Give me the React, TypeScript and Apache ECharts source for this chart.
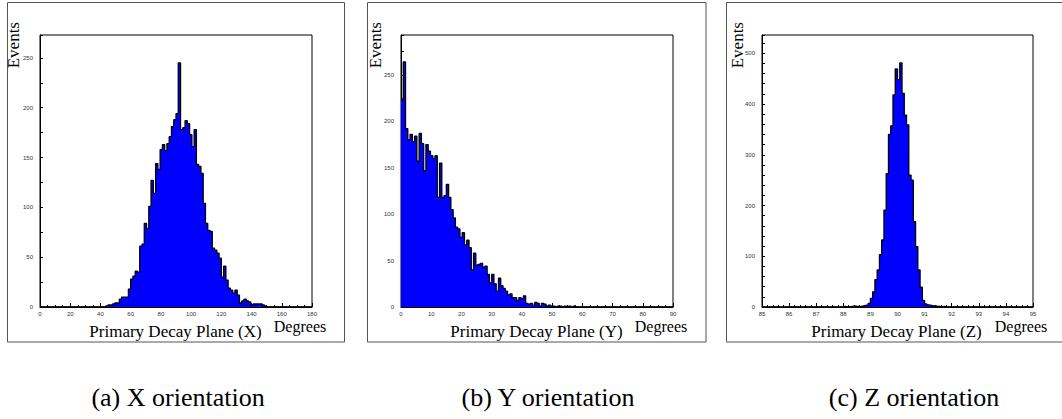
import { useEffect, useRef } from "react";
import * as echarts from "echarts";

// ---- Data (120 bins per histogram) ----
const X_START = 0;
const X_BIN = 1.5;
const xCounts = [
  0, 0, 0, 0, 0, 0, 0, 0, 0, 0,
  0, 0, 0, 0, 0, 0, 0, 0, 0, 0,
  0, 0, 0, 0, 0, 0, 0, 0, 0, 1,
  2, 2, 3, 4, 4, 8, 10, 10, 10, 18,
  28, 31, 36, 35, 61, 63, 84, 79, 101, 127,
  114, 144, 138, 158, 163, 157, 164, 171, 181, 188,
  194, 245, 178, 180, 187, 184, 173, 161, 178, 143,
  141, 134, 104, 84, 77, 76, 59, 57, 54, 49,
  30, 41, 27, 19, 17, 14, 17, 12, 4, 6,
  8, 6, 5, 2, 3, 3, 3, 3, 2, 1,
  0, 0, 0, 0, 0, 0, 0, 0, 0, 0,
  0, 0, 0, 0, 0, 0, 0, 0, 0, 0,
];

const Y_START = 0;
const Y_BIN = 0.75;
const yCounts = [
  223, 264, 192, 180, 186, 178, 184, 157, 187, 176,
  147, 175, 168, 163, 160, 163, 118, 155, 118, 120,
  132, 118, 105, 96, 86, 84, 75, 80, 67, 72,
  64, 40, 58, 45, 46, 47, 43, 44, 35, 26,
  35, 25, 17, 31, 23, 20, 17, 13, 14, 10,
  10, 7, 10, 9, 12, 4, 3, 4, 2, 5,
  4, 1, 4, 3, 1, 2, 1, 1, 0, 1,
  1, 0, 1, 0, 1, 0, 1, 0, 0, 0,
  0, 0, 0, 0, 0, 0, 0, 0, 0, 0,
  0, 0, 0, 0, 0, 0, 0, 0, 0, 0,
  0, 0, 0, 0, 0, 0, 0, 0, 0, 0,
  0, 0, 0, 0, 0, 0, 0, 0, 0, 0,
];

const Z_START = 85;
const Z_BIN = 10 / 120;
const zCounts = [
  0, 0, 0, 0, 0, 0, 0, 0, 0, 0,
  0, 0, 0, 0, 0, 0, 0, 0, 0, 0,
  0, 0, 0, 0, 0, 0, 0, 0, 0, 0,
  0, 0, 0, 0, 0, 0, 1, 0, 0, 1,
  2, 1, 1, 1, 2, 3, 4, 7, 17, 30,
  54, 73, 103, 132, 191, 263, 340, 357, 418, 469,
  448, 481, 421, 378, 359, 260, 250, 168, 119, 73,
  39, 13, 6, 4, 3, 2, 2, 1, 1, 0,
  1, 0, 0, 0, 0, 0, 0, 0, 0, 0,
  0, 0, 0, 0, 0, 0, 0, 0, 0, 0,
  0, 0, 0, 0, 0, 0, 0, 0, 0, 0,
  0, 0, 0, 0, 0, 0, 0, 0, 0, 0,
];

const axisTitles = ["Primary Decay Plane (X)", "Primary Decay Plane (Y)", "Primary Decay Plane (Z)"];
const captions = ["(a) X orientation", "(b) Y orientation", "(c) Z orientation"];
const yTitle = "Events";
const xUnit = "Degrees";

function steps(counts: number[], start: number, width: number) {
  const pts: [number, number][] = counts.map((c, i) => [start + i * width, c]);
  pts.push([start + counts.length * width, counts[counts.length - 1]]);
  return pts;
}

const SERIF = "Liberation Serif";
const SANS = "Liberation Sans";

export default function App() {
  const ref = useRef<HTMLDivElement>(null);
  useEffect(() => {
    document.body.style.margin = "0";
    if (!ref.current) return;
    const chart = echarts.init(ref.current, null, { renderer: "svg" });

    const panels = [
      { left: 40, width: 272, xmin: 0, xmax: 180, xint: 20, xsplit: 4, ymax: 273, yint: 25, ylab: 50, data: steps(xCounts, X_START, X_BIN) },
      { left: 401, width: 272, xmin: 0, xmax: 90, xint: 10, xsplit: 4, ymax: 293, yint: 25, ylab: 50, data: steps(yCounts, Y_START, Y_BIN) },
      { left: 762, width: 271, xmin: 85, xmax: 95, xint: 1, xsplit: 5, ymax: 536, yint: 20, ylab: 100, data: steps(zCounts, Z_START, Z_BIN) },
    ];
    const frames = [
      { x: 7.5, w: 337 },
      { x: 367.5, w: 338.5 },
      { x: 726.5, w: 400 },
    ];
    const eventsX = [13, 375, 737];
    const captionX = [178, 548, 914];

    const txt = (text: string, x: number, y: number, size: number, align: string, extra: any = {}) => ({
      type: "text",
      x,
      y,
      ...extra,
      style: {
        text,
        fontFamily: SERIF,
        fontSize: size,
        fill: "#000",
        textAlign: align,
        textVerticalAlign: "middle",
        align,
        verticalAlign: "middle",
      },
    });

    const graphic: any[] = [];
    frames.forEach((f) => {
      graphic.push({
        type: "rect",
        shape: { x: f.x, y: 2.5, width: f.w, height: 339.5 },
        style: { fill: "none", stroke: "#555", lineWidth: 1 },
        silent: true,
      });
    });
    panels.forEach((p, k) => {
      const right = p.left + p.width;
      graphic.push(txt(yTitle, eventsX[k], 22, 17, "right", { rotation: Math.PI / 2 }));
      graphic.push(txt(axisTitles[k], right - 136.5, 331, 17, "center"));
      graphic.push(txt(xUnit, right - 12, 326, 16, "center"));
      graphic.push(txt(captions[k], captionX[k], 397, 26, "center"));
    });

    chart.setOption({
      animation: false,
      backgroundColor: "#fff",
      grid: panels.map((p) => ({
        left: p.left,
        top: 35,
        width: p.width,
        height: 272,
        show: true,
        borderColor: "#000",
        borderWidth: 1,
        backgroundColor: "transparent",
        containLabel: false,
      })),
      xAxis: panels.map((p, k) => ({
        gridIndex: k,
        type: "value",
        min: p.xmin,
        max: p.xmax,
        interval: p.xint,
        axisLine: { show: true, lineStyle: { color: "#000", width: 1 } },
        axisTick: { show: true, inside: true, length: 4, lineStyle: { color: "#000", width: 1 } },
        minorTick: { show: true, splitNumber: p.xsplit, length: 2, lineStyle: { color: "#000", width: 1 } },
        splitLine: { show: false },
        minorSplitLine: { show: false },
        axisLabel: { fontSize: 6, color: "#333", margin: 4, fontFamily: SANS },
      })),
      yAxis: panels.map((p, k) => ({
        gridIndex: k,
        type: "value",
        min: 0,
        max: p.ymax,
        interval: p.yint,
        axisLine: { show: true, lineStyle: { color: "#000", width: 1 } },
        axisTick: { show: true, inside: true, length: 3, lineStyle: { color: "#000", width: 1 } },
        splitLine: { show: false },
        axisLabel: {
          fontSize: 6,
          color: "#333",
          margin: 7,
          fontFamily: SANS,
          formatter: (v: number) => (v % p.ylab === 0 ? String(v) : ""),
        },
      })),
      series: panels.map((p, k) => ({
        type: "line",
        xAxisIndex: k,
        yAxisIndex: k,
        step: "end",
        data: p.data,
        symbol: "none",
        clip: true,
        lineStyle: { color: "#000", width: 1.3 },
        areaStyle: { color: "#0000ff", opacity: 1 },
        silent: true,
      })),
      graphic,
    });
    return () => chart.dispose();
  }, []);
  return <div ref={ref} style={{ width: 1062, height: 419 }} />;
}
